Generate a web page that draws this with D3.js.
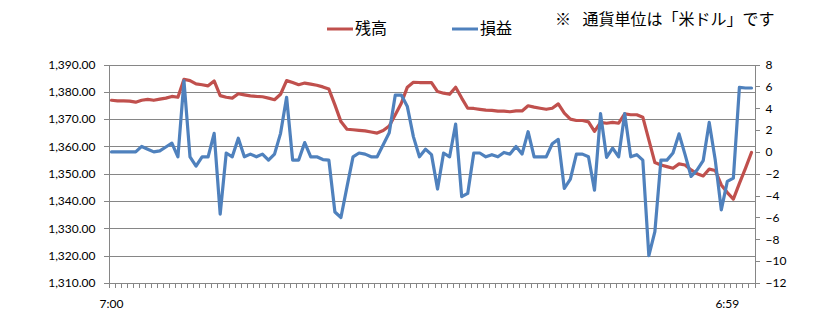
<!DOCTYPE html>
<html>
<head>
<meta charset="utf-8">
<script src="https://cdn.jsdelivr.net/npm/d3@7"></script>
<style>
  body { margin: 0; background: #fff; }
  svg { display: block; }
  .axis path, .axis line { stroke: #868686; shape-rendering: crispEdges; }
  .axis text { font-family: Lato, "Liberation Sans", sans-serif; font-size: 12px; fill: #000; }
  .grid line { stroke: #868686; shape-rendering: crispEdges; }
  .grid path { display: none; }
</style>
</head>
<body>
<svg id="chart" width="835" height="316"></svg>
<script>
////////////////////////////////////////////////////////////////////////////////////
// data
var seriesNames = ["残高", "損益"];
var note = "※ 通貨単位は「米ドル」です";

// balance, left axis
var balance = [
  1376.9, 1376.7, 1376.7, 1376.6, 1376.2, 1376.9, 1377.2, 1376.9, 1377.3, 1377.7,
  1378.3, 1378.0, 1384.6, 1384.1, 1382.9, 1382.6, 1382.2, 1384.0, 1378.6, 1378.0,
  1377.7, 1379.3, 1378.9, 1378.5, 1378.3, 1378.2, 1377.7, 1377.1, 1379.1, 1384.1,
  1383.4, 1382.6, 1383.2, 1382.8, 1382.4, 1381.8, 1381.0, 1375.2, 1369.1, 1366.3,
  1366.1, 1365.9, 1365.7, 1365.3, 1364.9, 1365.8, 1367.5, 1371.6, 1375.8, 1381.7,
  1383.5, 1383.4, 1383.4, 1383.4, 1380.1, 1379.5, 1379.1, 1381.7, 1377.7, 1374.0,
  1373.9, 1373.6, 1373.3, 1373.2, 1372.9, 1372.9, 1372.7, 1373.0, 1373.0, 1374.9,
  1374.4, 1374.0, 1373.6, 1374.0, 1375.6, 1372.2, 1370.0, 1369.5, 1369.5, 1369.0,
  1365.5, 1368.8, 1368.5, 1368.8, 1368.5, 1371.9, 1371.6, 1371.6, 1370.7, 1362.4,
  1354.1, 1353.2, 1352.6, 1352.0, 1353.6, 1353.2, 1351.4, 1350.0, 1349.2, 1351.7,
  1351.2, 1345.9, 1343.1, 1340.7, 1346.5, 1352.0, 1357.8
];

// profit/loss, right axis
var profit = [
  0, 0, 0, 0, 0, 0.5, 0.25, 0, 0.1, 0.45,
  0.8, -0.45, 6.5, -0.45, -1.3, -0.45, -0.45, 1.7, -5.7, -0.1,
  -0.45, 1.25, -0.45, -0.2, -0.45, -0.2, -0.75, -0.2, 1.7, 5.0,
  -0.75, -0.75, 0.85, -0.45, -0.45, -0.7, -0.75, -5.5, -6.0, -3.2,
  -0.45, -0.1, -0.2, -0.45, -0.45, 0.65, 1.75, 5.2, 5.2, 4.15,
  1.4, -0.45, 0.25, -0.25, -3.4, -0.1, -0.45, 2.55, -4.1, -3.8,
  -0.1, -0.1, -0.45, -0.25, -0.45, -0.05, -0.2, 0.5, -0.2, 1.85,
  -0.45, -0.45, -0.45, 0.75, 1.15, -3.35, -2.5, -0.2, -0.2, -0.45,
  -3.5, 3.5, -0.5, 0.35, -0.45, 3.5, -0.45, -0.25, -0.75, -9.5,
  -7.3, -0.75, -0.75, -0.1, 1.65, -0.25, -2.25, -1.65, -0.8, 2.7,
  -0.75, -5.3, -2.7, -2.4, 5.9, 5.85, 5.85
];

// category axis labels, only two of them are shown
var xLabels = ["7:00", "6:59"];
var xLabelIndex = [0, 102];

var leftTicks = d3.range(1310, 1391, 10);
var rightTicks = d3.range(-12, 9, 2);

////////////////////////////////////////////////////////////////////////////////////
// setup
var svg = d3.select("#chart");
var plotLeft = 108.5, plotRight = 754.5, plotTop = 64.5, plotBottom = 283;
var red = "#C0504D", blue = "#4F81BD";
var n = balance.length;

var xEdge = d3.scaleLinear().domain([0, n]).range([plotLeft, plotRight]); // tick edges
var xPos = function(i) { return xEdge(i + 0.5); }; // point sits in middle of category
var yLeft = d3.scaleLinear().domain([1310, 1390]).range([plotBottom, plotTop]);
var yRight = d3.scaleLinear().domain([-12, 8]).range([plotBottom, plotTop]);

// gridlines
svg.append("g")
   .attr("class", "grid")
   .attr("transform", "translate(" + plotLeft + ",0)")
   .call(d3.axisLeft(yLeft).tickValues(leftTicks).tickSize(-(plotRight - plotLeft)).tickFormat(""));

// left axis
svg.append("g")
   .attr("class", "axis")
   .attr("transform", "translate(" + plotLeft + ",0)")
   .call(d3.axisLeft(yLeft).tickValues(leftTicks).tickSize(5).tickPadding(8)
           .tickFormat(d3.format(",.2f")));

// right axis
svg.append("g")
   .attr("class", "axis")
   .attr("transform", "translate(" + plotRight + ",0)")
   .call(d3.axisRight(yRight).tickValues(rightTicks).tickSize(5).tickPadding(6));

// bottom axis: ticks on every category edge
var xAxis = svg.append("g")
   .attr("class", "axis")
   .attr("transform", "translate(0," + plotBottom + ")")
   .call(d3.axisBottom(xEdge).tickValues(d3.range(n + 1)).tickSize(5).tickFormat(""));
xAxis.select(".domain").attr("d", "M" + plotLeft + ",0.5H" + plotRight);

svg.selectAll(".xLabel")
   .data(xLabels)
   .enter()
   .append("text")
   .attr("class", "xLabel")
   .attr("x", function(d, k) { return xPos(xLabelIndex[k]); })
   .attr("y", plotBottom + 25)
   .attr("text-anchor", "middle")
   .style("font-family", "Lato, 'Liberation Sans', sans-serif")
   .style("font-size", "12px")
   .text(function(d) { return d; });

////////////////////////////////////////////////////////////////////////////////////
// lines
var balanceLine = d3.line()
                    .x(function(d, i) { return xPos(i); })
                    .y(function(d) { return yLeft(d); });
var profitLine = d3.line()
                   .x(function(d, i) { return xPos(i); })
                   .y(function(d) { return yRight(d); });

svg.append("path")
   .datum(balance)
   .attr("d", balanceLine)
   .style("fill", "none")
   .style("stroke", red)
   .style("stroke-width", 3.2)
   .style("stroke-linejoin", "round")
   .style("stroke-linecap", "round");

svg.append("path")
   .datum(profit)
   .attr("d", profitLine)
   .style("fill", "none")
   .style("stroke", blue)
   .style("stroke-width", 3.2)
   .style("stroke-linejoin", "round")
   .style("stroke-linecap", "round");

////////////////////////////////////////////////////////////////////////////////////
// legend + note
var legend = svg.selectAll(".legend")
                .data(seriesNames)
                .enter()
                .append("g")
                .attr("class", "legend")
                .attr("transform", function(d, k) { return "translate(" + (327 + k * 125) + ",29)"; });
legend.append("line")
      .attr("x1", 0).attr("x2", 26)
      .style("stroke", function(d, k) { return k == 0 ? red : blue; })
      .style("stroke-width", 3);
legend.append("text")
      .attr("x", 28)
      .attr("y", 5)
      .style("font-family", "'Noto Sans CJK JP', sans-serif")
      .style("font-size", "16px")
      .text(function(d) { return d; });

svg.append("text")
   .attr("x", 555)
   .attr("y", 25)
   .style("font-family", "'Noto Sans CJK JP', sans-serif")
   .style("font-size", "16px")
   .style("word-spacing", "8px")
   .text(note);
</script>
</body>
</html>
